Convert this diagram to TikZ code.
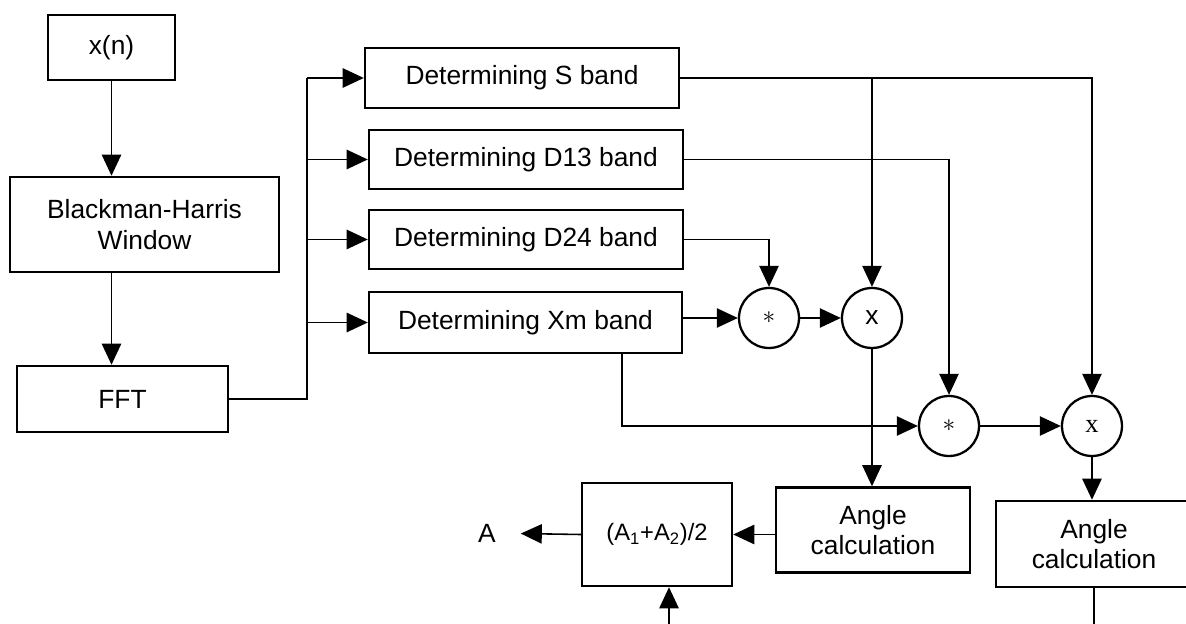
\documentclass[tikz,border=0pt]{standalone}
\usepackage{fontspec}
\setmainfont{Liberation Sans}
\newfontfamily\serifop{Liberation Serif}
\usetikzlibrary{arrows.meta, positioning}

\begin{document}
\begin{tikzpicture}[x=0.02cm, y=-0.02cm, on grid, >={Triangle[length=12pt,width=11pt]},
    block/.style={draw, line width=1.4pt, align=center, inner sep=0pt,
        font=\fontsize{15}{17.5}\selectfont},
    op/.style={draw, circle, line width=1.3pt, minimum size=1.2cm, inner sep=0pt,
        font=\fontsize{15}{17}\selectfont},
    wire/.style={line width=0.9pt}]
    \useasboundingbox (0,0) rectangle (1186,624);

    \node[block, minimum width=2.54cm, minimum height=1.3cm] (xn) at (111.5,47.5) {x(n)};
    \node[block, minimum width=5.38cm, minimum height=1.9cm] (bh) at (144.5,224.5) {Blackman-Harris\\Window};
    \node[block, minimum width=4.22cm, minimum height=1.32cm] (fft) at (122.5,399) {FFT};

    \node[block, minimum width=6.28cm, minimum height=1.2cm] (sband) at (522,78) {Determining S band};
    \node[block, minimum width=6.28cm, minimum height=1.18cm] (dthirteen) at (526,159.5) {Determining D13 band};
    \node[block, minimum width=6.28cm, minimum height=1.18cm] (dtwentyfour) [below=1.6cm of dthirteen] {Determining D24 band};
    \node[block, minimum width=6.26cm, minimum height=1.22cm] (xmband) at (525.5,322.5) {Determining Xm band};

    \node[op] (mulone) at (769,318) {$\ast$};
    \node[op] (prodone) [right=2.06cm of mulone] {x};
    \node[op, font=\fontsize{15}{17}\serifop] (multwo) at (949,426) {$\ast$};
    \node[op, font=\fontsize{15}{17}\serifop] (prodtwo) [right=2.86cm of multwo] {x};

    \node[block, minimum width=3.88cm, minimum height=1.7cm] (angone) at (873,530) {Angle\\calculation};
    \node[block, minimum width=3.92cm, minimum height=1.72cm] (angtwo) at (1094,544) {Angle\\calculation};
    \node[block, minimum width=3cm, minimum height=2.06cm, font=\fontsize{13.5}{16}\selectfont] (avg) at (657,534.5)
        {(A\textsubscript{1}+A\textsubscript{2})/2};
    \node[font=\fontsize{15}{17}\selectfont, inner xsep=14pt] (aout) at (487,533) {A};

    \coordinate (bus) at (307,0);
    \coordinate (xmtap) at (622,0);
    \coordinate (inbottom) at (669,624);

    % input chain
    \draw[wire, ->] (xn.south) -- (xn.south |- bh.north);
    \draw[wire, ->] (xn.south |- bh.south) -- (xn.south |- fft.north);
    \draw[wire] (fft.east) -| (bus |- sband.west);

    % bands
    \draw[wire, ->] (bus |- sband.west) -- (sband.west);
    \draw[wire, ->] (bus |- dthirteen.west) -- (dthirteen.west);
    \draw[wire, ->] (bus |- dtwentyfour.west) -- (dtwentyfour.west);
    \draw[wire, ->] (bus |- xmband.west) -- (xmband.west);

    % products
    \draw[wire, ->] (sband.east) -| (prodtwo.north);
    \draw[wire, ->] (prodone |- sband.east) -- (prodone.north);
    \draw[wire, ->] (dthirteen.east) -| (multwo.north);
    \draw[wire, ->] (dtwentyfour.east) -| (mulone.north);
    \draw[wire, ->] (xmband.east |- mulone.west) -- (mulone.west);
    \draw[wire, ->] (mulone.east) -- (prodone.west);
    \draw[wire, ->] (xmtap |- xmband.south) |- (multwo.west);
    \draw[wire, ->] (multwo.east) -- (prodtwo.west);

    % angles
    \draw[wire, ->] (prodone.south) -- (prodone.south |- angone.north);
    \draw[wire, ->] (prodtwo.south) -- (prodtwo.south |- angtwo.north);
    \draw[wire, ->] (angone.west |- avg.east) -- (avg.east);
    \draw[wire, ->] (avg.west) -- (aout);
    \draw[wire, ->] (inbottom) -- (inbottom |- avg.south);
    \draw[wire] (angtwo.south) -- (angtwo.south |- inbottom);
\end{tikzpicture}
\end{document}
